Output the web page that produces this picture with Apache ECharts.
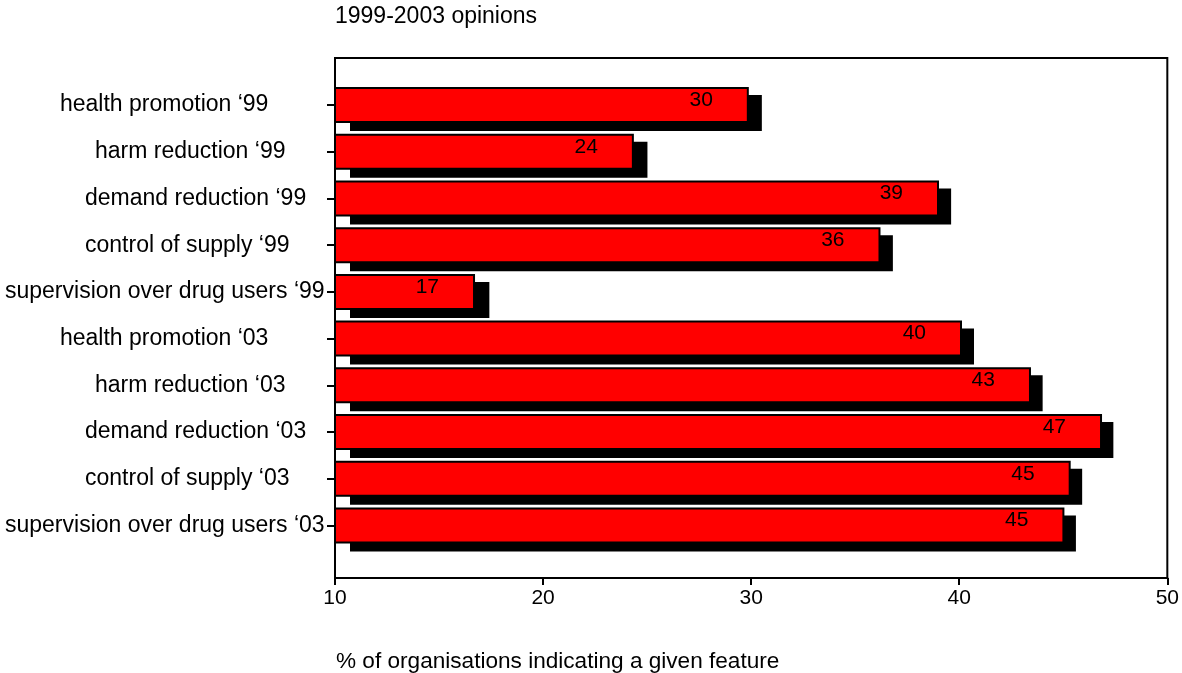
<!DOCTYPE html>
<html>
<head>
<meta charset="utf-8">
<script src="https://cdn.jsdelivr.net/npm/echarts@6/dist/echarts.min.js"></script>
<style>
  html, body { margin: 0; padding: 0; background: #fff; }
  #chart { width: 1182px; height: 673px; }
</style>
</head>
<body>
<div id="chart"></div>
<script>
// categories, top to bottom
const categories = [
  "health promotion \u201899",
  "harm reduction \u201899",
  "demand reduction \u201899",
  "control of supply \u201899",
  "supervision over drug users \u201899",
  "health promotion \u201803",
  "harm reduction \u201803",
  "demand reduction \u201803",
  "control of supply \u201803",
  "supervision over drug users \u201803",
];
const shares = [29.8, 24.3, 38.9, 36.1, 16.7, 40.0, 43.3, 46.7, 45.2, 44.9];
const xTicks = [10, 20, 30, 40, 50];

const titleText = "1999-2003 opinions";
const xName = "% of organisations indicating a given feature";

const font = 'Arial, "Liberation Sans", sans-serif';

// label indents, by topic (labels are not right aligned in the original)
const indent = {
  "health promotion": 55,
  "harm reduction": 90,
  "demand reduction": 80,
  "control of supply": 80,
  "supervision over drug users": 0,
};
const indentKey = (v) => Object.keys(indent).find((k) => v.indexOf(k) === 0);

const rich = {};
Object.keys(indent).forEach((k, i) => {
  rich["i" + i] = {
    padding: [0, 0, 0, indent[k]],
    fontSize: 23,
    fontFamily: font,
    color: "#000",
  };
});

const chart = echarts.init(document.getElementById("chart"), null, { renderer: "canvas" });

const plotW = 836;
const band = 46.72;
const barTop = 105 - band / 2;

chart.setOption({
  animation: false,
  title: [
    {
      text: titleText,
      left: 335,
      top: 5,
      padding: 0,
      textStyle: { fontSize: 23, fontWeight: "normal", fontFamily: font, color: "#000" },
    },
    {
      text: xName,
      left: 336,
      top: 650,
      padding: 0,
      textStyle: { fontSize: 22.6, fontWeight: "normal", fontFamily: font, color: "#000" },
    },
  ],
  grid: [
    // frame + x axis
    { left: 335, top: 58, width: plotW, bottom: 95, show: true, borderColor: "#000", borderWidth: 2, containLabel: false },
    // red bars
    { left: 335, top: barTop, width: plotW, height: band * 10, containLabel: false },
    // black shadow, shifted right and down
    { left: 350, top: barTop + 8, width: plotW, height: band * 10, containLabel: false },
  ],
  xAxis: [
    {
      gridIndex: 0,
      type: "value",
      min: xTicks[0],
      max: xTicks[xTicks.length - 1],
      interval: xTicks[1] - xTicks[0],
      splitLine: { show: false },
      axisLine: { show: true, lineStyle: { color: "#000", width: 2 } },
      axisTick: { show: true, length: 7, lineStyle: { color: "#000", width: 2 } },
      axisLabel: { color: "#000", fontSize: 21, fontFamily: font, margin: 10 },
    },
    { gridIndex: 1, type: "value", min: xTicks[0], max: xTicks[xTicks.length - 1], show: false },
    { gridIndex: 2, type: "value", min: xTicks[0], max: xTicks[xTicks.length - 1], show: false },
  ],
  yAxis: [
    {
      gridIndex: 0,
      type: "value",
      axisLine: { show: true, lineStyle: { color: "#000", width: 2 } },
      axisTick: { show: false },
      axisLabel: { show: false },
      splitLine: { show: false },
    },
    {
      gridIndex: 1,
      type: "category",
      inverse: true,
      data: categories,
      axisLine: { show: false },
      axisTick: { show: true, length: 8, alignWithLabel: true, lineStyle: { color: "#000", width: 2 } },
      axisLabel: {
        interval: 0,
        align: "left",
        margin: 330,
        color: "#000",
        fontSize: 23,
        fontFamily: font,
        formatter: (v) => "{i" + Object.keys(indent).indexOf(indentKey(v)) + "|" + v + "}",
        rich: rich,
      },
    },
    {
      gridIndex: 2,
      type: "category",
      inverse: true,
      data: categories,
      show: false,
    },
  ],
  series: [
    {
      name: "shadow",
      type: "bar",
      xAxisIndex: 2,
      yAxisIndex: 2,
      data: shares,
      barWidth: 36,
      z: 1,
      silent: true,
      itemStyle: { color: "#000" },
    },
    {
      name: "share",
      type: "bar",
      xAxisIndex: 1,
      yAxisIndex: 1,
      data: shares,
      barWidth: 36,
      z: 2,
      itemStyle: { color: "#ff0000", borderColor: "#000", borderWidth: 2 },
      label: {
        show: true,
        position: "insideRight",
        distance: 36,
        offset: [0, -5],
        color: "#000",
        fontSize: 21,
        fontFamily: font,
        formatter: (p) => Math.round(p.value),
      },
    },
  ],
});
</script>
</body>
</html>
